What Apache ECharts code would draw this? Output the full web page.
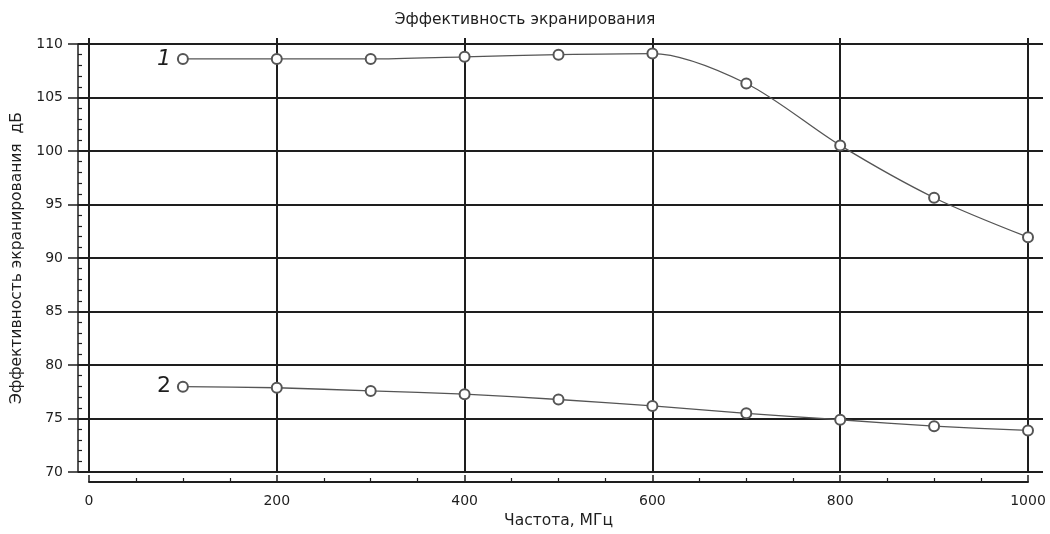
<!DOCTYPE html>
<html>
<head>
<meta charset="utf-8">
<script src="https://cdn.jsdelivr.net/npm/echarts@6/dist/echarts.min.js"></script>
<style>
  html, body { margin: 0; padding: 0; background: #fff; }
  #chart { width: 1050px; height: 534px; }
</style>
</head>
<body>
<div id="chart"></div>
<script>
// частоты, МГц
const freq = [100, 200, 300, 400, 500, 600, 700, 800, 900, 1000];
// кривая 1 и кривая 2, дБ
const curve1 = [108.6, 108.6, 108.6, 108.8, 109.0, 109.1, 106.3, 100.5, 95.6, 91.9];
const curve2 = [77.9, 77.8, 77.5, 77.2, 76.7, 76.1, 75.4, 74.8, 74.2, 73.8];
const curveNames = ['1', '2'];

const FONT = 'DejaVu Sans';
const INK = '#1e1e1e';

// точки серии, у первой точки подпись с номером кривой
function makeData(values, name, italic) {
  return freq.map((f, i) => {
    const item = { value: [f, values[i]] };
    if (i === 0) {
      item.label = {
        show: true,
        position: 'left',
        distance: 6,
        formatter: name,
        fontSize: 22,
        fontStyle: italic ? 'italic' : 'normal',
        fontFamily: FONT,
        color: INK
      };
    }
    return item;
  });
}

function seriesOf(values, name, italic, smooth) {
  return {
    type: 'line',
    name: name,
    xAxisIndex: 2,
    yAxisIndex: 3,
    smooth: smooth,
    symbol: 'emptyCircle',
    symbolSize: 10,
    lineStyle: { color: '#555', width: 1.3 },
    itemStyle: { color: '#555', borderColor: '#555', borderWidth: 1.3 },
    data: makeData(values, name, italic),
    z: 5
  };
}

const chart = echarts.init(document.getElementById('chart'), null, { renderer: 'canvas' });

chart.setOption({
  animation: false,
  backgroundColor: '#fff',
  textStyle: { fontFamily: FONT, color: INK },
  title: {
    text: 'Эффективность экранирования',
    left: 'center',
    top: 7,
    textStyle: { fontSize: 15.5, fontWeight: 'normal', fontFamily: FONT, color: INK }
  },
  grid: [
    // горизонтальная сетка и ось Y
    { left: 78, right: 7, top: 44, bottom: 62 },
    // вертикальная сетка
    { left: 89, right: 22, top: 38, bottom: 62 },
    // данные и ось X
    { left: 89, right: 22, top: 44, bottom: 62 }
  ],
  xAxis: [
    { gridIndex: 0, type: 'value', min: 0, max: 1, show: false },
    {
      gridIndex: 1, type: 'value', min: 0, max: 1000, interval: 200,
      axisLine: { show: false }, axisTick: { show: false }, axisLabel: { show: false },
      splitLine: { show: true, lineStyle: { color: INK, width: 2 } }
    },
    {
      gridIndex: 2, type: 'value', min: 0, max: 1000, interval: 200,
      position: 'bottom', offset: 11,
      name: 'Частота, МГц',
      nameLocation: 'middle',
      nameGap: 31,
      nameTextStyle: { fontSize: 15.5, fontFamily: FONT, color: INK },
      axisLine: { onZero: false, lineStyle: { color: INK, width: 2 } },
      axisTick: { inside: true, length: 7, lineStyle: { color: INK, width: 1.5 } },
      minorTick: { show: true, splitNumber: 4, length: 4, lineStyle: { color: INK, width: 1.2 } },
      axisLabel: { fontSize: 14, margin: 12, fontFamily: FONT, color: INK, formatter: v => String(v) },
      splitLine: { show: false }
    }
  ],
  yAxis: [
    {
      gridIndex: 0, type: 'value', min: 70, max: 110, interval: 5,
      position: 'left',
      name: 'Эффективность экранирования  дБ',
      nameLocation: 'middle',
      nameGap: 53,
      nameTextStyle: { fontSize: 15.5, fontFamily: FONT, color: INK },
      axisLine: { show: true, onZero: false, lineStyle: { color: INK, width: 1.5 } },
      axisTick: { length: 10, lineStyle: { color: INK, width: 1.5 } },
      axisLabel: { fontSize: 14, margin: 15, fontFamily: FONT, color: INK },
      splitLine: { show: true, lineStyle: { color: INK, width: 2 } }
    },
    {
      gridIndex: 0, type: 'value', min: 70, max: 110, interval: 5,
      position: 'left',
      axisLine: { show: false, onZero: false },
      axisTick: { show: false, inside: true },
      minorTick: { show: true, splitNumber: 5, length: 4, lineStyle: { color: INK, width: 1.2 } },
      axisLabel: { show: false },
      splitLine: { show: false }
    },
    { gridIndex: 1, type: 'value', min: 0, max: 1, show: false },
    { gridIndex: 2, type: 'value', min: 70, max: 110, show: false }
  ],
  series: [
    seriesOf(curve1, curveNames[0], true, 0.3),
    seriesOf(curve2, curveNames[1], false, 0.2)
  ]
});
</script>
</body>
</html>
